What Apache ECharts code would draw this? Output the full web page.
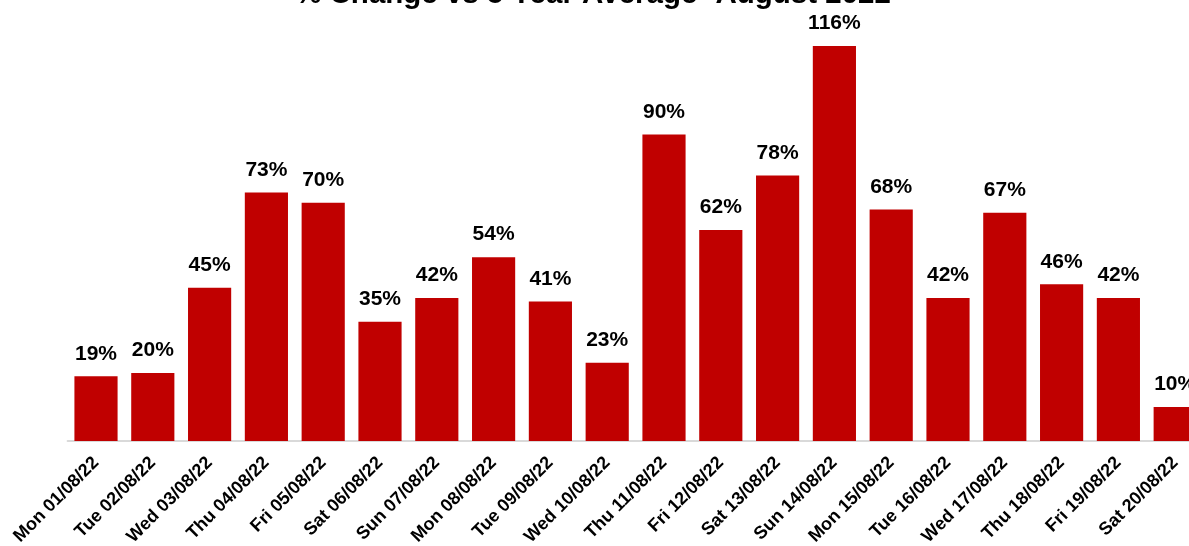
<!DOCTYPE html>
<html>
<head>
<meta charset="utf-8">
<script src="https://cdn.jsdelivr.net/npm/echarts@6/dist/echarts.min.js"></script>
<style>
  html, body { margin: 0; padding: 0; background: #fff; }
  #chart { width: 1189px; height: 546px; }
</style>
</head>
<body>
<div id="chart"></div>
<script>
// Jours d'août 2022
const days = ['Mon 01/08/22', 'Tue 02/08/22', 'Wed 03/08/22', 'Thu 04/08/22', 'Fri 05/08/22',
  'Sat 06/08/22', 'Sun 07/08/22', 'Mon 08/08/22', 'Tue 09/08/22', 'Wed 10/08/22',
  'Thu 11/08/22', 'Fri 12/08/22', 'Sat 13/08/22', 'Sun 14/08/22', 'Mon 15/08/22',
  'Tue 16/08/22', 'Wed 17/08/22', 'Thu 18/08/22', 'Fri 19/08/22', 'Sat 20/08/22'];

// Variation en % par rapport à la moyenne sur 5 ans
const changePct = [19, 20, 45, 73, 70, 35, 42, 54, 41, 23, 90, 62, 78, 116, 68, 42, 67, 46, 42, 10];

const chart = echarts.init(document.getElementById('chart'));

const option = {
  animation: false,
  title: {
    text: '% Change vs 5 Year Average- August 2022',
    left: 588,
    textAlign: 'center',
    top: -25.5,
    textStyle: { fontFamily: 'Liberation Sans, Arial', fontWeight: 'bold', fontSize: 29.5, color: '#000' }
  },
  // la grille déborde à droite : la dernière barre est coupée
  grid: { left: 67.6, width: 1136, top: 32.4, bottom: 105, containLabel: false, outerBoundsMode: 'none' },
  xAxis: {
    type: 'category',
    data: days,
    axisLine: { lineStyle: { color: '#d9d9d9', width: 2 } },
    axisTick: { show: false },
    axisLabel: {
      rotate: 45,
      interval: 0,
      margin: 19,
      color: '#000',
      fontFamily: 'Liberation Sans, Arial',
      fontWeight: 'bold',
      fontSize: 18
    }
  },
  yAxis: {
    type: 'value',
    min: 0,
    max: 120,
    show: false,
    splitLine: { show: false }
  },
  series: [{
    type: 'bar',
    data: changePct,
    barCategoryGap: '24%',
    itemStyle: { color: '#c00000' },
    label: {
      show: true,
      position: 'top',
      distance: 12,
      formatter: '{c}%',
      color: '#000',
      fontFamily: 'Liberation Sans, Arial',
      fontWeight: 'bold',
      fontSize: 21
    }
  }]
};

chart.setOption(option);
</script>
</body>
</html>
